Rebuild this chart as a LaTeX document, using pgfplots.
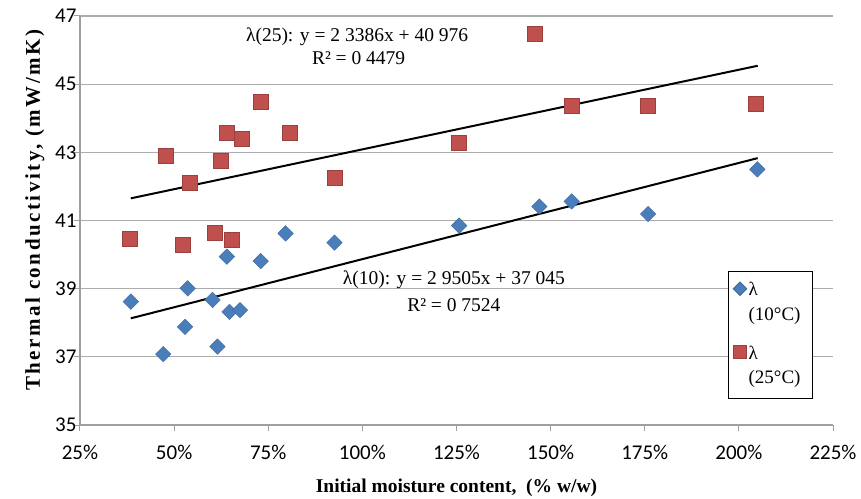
\documentclass[border=0pt]{standalone}
\usepackage{fontspec}
\setmainfont{Liberation Serif}
\newfontfamily\tickfont{Carlito}
\usepackage{pgfplots}
\pgfplotsset{compat=1.18}
\definecolor{blueM}{HTML}{4A7EBB}
\definecolor{redM}{HTML}{C0504D}
\pgfplotstableread{
x y
0.385 38.62
0.471 37.08
0.529 37.88
0.536 39.01
0.602 38.67
0.615 37.30
0.647 38.32
0.675 38.37
0.640 39.94
0.730 39.81
0.796 40.62
0.926 40.35
1.257 40.85
1.470 41.41
1.556 41.56
1.759 41.19
2.049 42.50
}\tenC
\pgfplotstableread{
x y
0.381 40.48
0.523 40.30
0.478 42.89
0.542 42.11
0.624 42.75
0.640 43.58
0.680 43.40
0.730 44.49
0.806 43.58
0.609 40.64
0.654 40.45
0.927 42.27
1.257 43.28
1.459 46.49
1.556 44.36
1.759 44.38
2.045 44.42
}\twentyfiveC
\begin{document}
\begin{tikzpicture}
\begin{axis}[name=ax,
  scale only axis, width=753pt, height=409pt,
  xmin=0.25, xmax=2.25, ymin=35, ymax=47,
  axis x line*=bottom, axis y line*=left,
  axis line style={-, draw=gray!75, line width=1.2pt},
  xtick={0.25,0.5,0.75,1,1.25,1.5,1.75,2,2.25},
  xticklabels={25\%,50\%,75\%,100\%,125\%,150\%,175\%,200\%,225\%},
  ytick={35,37,39,41,43,45,47},
  yticklabels={35,37,39,41,43,45,47},
  ymajorgrids, grid style={draw=gray!65, line width=1.3pt},
  tick align=outside, major tick length=6pt,
  tick style={draw=gray!75, line width=1pt},
  ticklabel style={font=\tickfont\fontsize{21}{24}\selectfont},
  xticklabel style={yshift=-11pt},
  yticklabel style={xshift=6pt},
  xlabel={Initial moisture content,\ \ (\% w/w)},
  ylabel={\addfontfeature{LetterSpace=12}Thermal conductivity, (mW/mK)},
  label style={font=\bfseries\fontsize{19.5}{23}\selectfont},
  xlabel style={yshift=-12pt},
  ylabel style={font=\bfseries\fontsize{21}{24}\selectfont, yshift=4pt, at={(ticklabel cs:0.525)}},
  legend style={at={(0.9735,0.3775)}, anchor=north east, draw=black, line width=1pt,
    font=\fontsize{19}{22}\selectfont, cells={anchor=west}, nodes={text depth=},
    inner xsep=4pt, inner ysep=9pt, row sep=7.5pt},
  legend image post style={scale=0.85},
]
\addplot[only marks, mark=square*, mark size=5.5pt,
  mark options={rotate=45, fill=blueM, draw=blueM!85!black}] table {\tenC};
\addlegendentry{λ}
\addlegendimage{empty legend}
\addlegendentry{(10°C)\rule[-14pt]{0pt}{14pt}}
\addplot[only marks, mark=square*, mark size=7.5pt,
  mark options={fill=redM, draw=redM!80!black}] table {\twentyfiveC};
\addlegendentry{λ}
\addlegendimage{empty legend}
\addlegendentry{(25°C)\hspace*{6pt}}
\addplot[black, line width=2pt, forget plot] coordinates {(0.385,38.13) (2.05,42.83)};
\addplot[black, line width=2pt, forget plot] coordinates {(0.385,41.65) (2.05,45.54)};
\node[font=\fontsize{19.5}{23}\selectfont] at (axis cs:0.986,46.38) {λ(25): y = 2 3386x + 40 976};
\node[font=\fontsize{19.5}{23}\selectfont] at (axis cs:0.99,45.77) {R² = 0 4479};
\node[font=\fontsize{19.5}{23}\selectfont] at (axis cs:1.243,39.25) {λ(10): y = 2 9505x + 37 045};
\node[font=\fontsize{19.5}{23}\selectfont] at (axis cs:1.243,38.52) {R² = 0 7524};
\end{axis}
\pgfresetboundingbox
\path ([shift={(-80pt,-73pt)}]ax.south west) rectangle ([shift={(28pt,16pt)}]ax.north east);
\end{tikzpicture}
\end{document}
